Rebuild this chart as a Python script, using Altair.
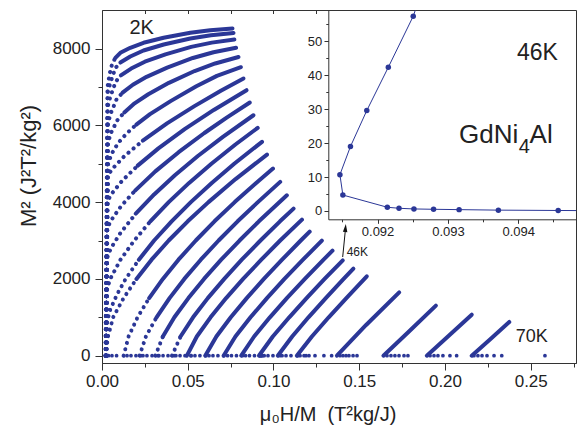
import altair as alt
import pandas as pd

BLUE = "#2b3797"
INK = "#222222"
FONT = "Liberation Sans"

# isotherm temperatures (K)
temps = [2, 6, 8, 10, 12, 14, 16, 18, 20, 22, 24, 26, 28, 30,
         32, 34, 36, 38, 40, 42, 44, 46, 48, 50, 55, 60, 65, 70]

# Arrott isotherms: (mu0H/M [T^2 kg/J], M^2 [J^2 T^2/kg^2]), low field first
iso_02 = [(0.0020, 0), (0.0032, 7000), (0.0045, 7350), (0.0058, 7583), (0.0078, 7758),
          (0.0107, 7888), (0.0165, 8019), (0.0242, 8149), (0.0359, 8279), (0.0515, 8410),
          (0.0631, 8477), (0.0761, 8522)]
iso_06 = [(0.0021, 0), (0.0033, 6850), (0.0048, 7100), (0.0078, 7491), (0.0107, 7635),
          (0.0165, 7791), (0.0242, 7948), (0.0360, 8104), (0.0515, 8261), (0.0635, 8345),
          (0.0767, 8404)]
iso_08 = [(0.0022, 0), (0.0034, 6500), (0.0049, 6750), (0.0080, 7136), (0.0110, 7299),
          (0.0170, 7478), (0.0250, 7656), (0.0370, 7849), (0.0520, 8042), (0.0640, 8153),
          (0.0772, 8235)]
iso_10 = [(0.0022, 0), (0.0035, 6050), (0.0050, 6300), (0.0085, 6678), (0.0120, 6851),
          (0.0180, 7056), (0.0260, 7263), (0.0380, 7503), (0.0530, 7753), (0.0650, 7902),
          (0.0782, 8019)]
iso_12 = [(0.0023, 0), (0.0035, 5550), (0.0052, 5800), (0.0090, 6136), (0.0130, 6334),
          (0.0190, 6572), (0.0270, 6809), (0.0390, 7106), (0.0540, 7413), (0.0660, 7611),
          (0.0796, 7779)]
iso_14 = [(0.0023, 0), (0.0036, 5000), (0.0055, 5250), (0.0095, 5544), (0.0140, 5770),
          (0.0200, 6019), (0.0280, 6291), (0.0400, 6630), (0.0550, 7015), (0.0670, 7287),
          (0.0810, 7513)]
iso_16 = [(0.0024, 0), (0.0030, 4650), (0.0057, 4850), (0.0131, 5200), (0.0238, 5600),
          (0.0379, 6050), (0.0539, 6500), (0.0693, 6900), (0.0825, 7219)]
iso_18 = [(0.0024, 0), (0.0030, 4000), (0.0053, 4200), (0.0116, 4550), (0.0208, 4950),
          (0.0329, 5400), (0.0482, 5900), (0.0652, 6400), (0.0843, 6914)]
iso_20 = [(0.0025, 0), (0.0030, 3300), (0.0049, 3500), (0.0112, 3900), (0.0193, 4300),
          (0.0311, 4800), (0.0447, 5300), (0.0597, 5800), (0.0727, 6200), (0.0862, 6593)]
iso_22 = [(0.0025, 0), (0.0030, 2550), (0.0052, 2800), (0.0108, 3200), (0.0197, 3700),
          (0.0304, 4200), (0.0425, 4700), (0.0559, 5200), (0.0705, 5700), (0.0883, 6262)]
iso_24 = [(0.0026, 0), (0.0030, 1750), (0.0048, 2000), (0.0108, 2500), (0.0188, 3000),
          (0.0282, 3500), (0.0389, 4000), (0.0508, 4500), (0.0638, 5000), (0.0778, 5500),
          (0.0908, 5934)]
iso_26 = [(0.0026, 0), (0.0030, 900), (0.0048, 1200), (0.0088, 1600), (0.0138, 2000),
          (0.0215, 2500), (0.0304, 3000), (0.0406, 3500), (0.0518, 4000), (0.0640, 4500),
          (0.0771, 5000), (0.0933, 5569)]
iso_28 = [(0.0020, 0), (0.0035, 500), (0.0065, 1000), (0.0126, 1500), (0.0201, 2000),
          (0.0289, 2500), (0.0389, 3000), (0.0500, 3500), (0.0621, 4000), (0.0779, 4600),
          (0.0962, 5238)]
iso_30 = [(0.0126, 0), (0.0155, 500), (0.0207, 1000), (0.0275, 1500), (0.0355, 2000),
          (0.0446, 2500), (0.0547, 3000), (0.0656, 3500), (0.0774, 4000), (0.0899, 4500),
          (0.0997, 4873)]
iso_32 = [(0.0219, 0), (0.0256, 500), (0.0318, 1000), (0.0394, 1500), (0.0480, 2000),
          (0.0576, 2500), (0.0680, 3000), (0.0791, 3500), (0.0909, 4000), (0.1039, 4527)]
iso_34 = [(0.0311, 0), (0.0355, 500), (0.0422, 1000), (0.0504, 1500), (0.0595, 2000),
          (0.0695, 2500), (0.0802, 3000), (0.0915, 3500), (0.1078, 4177)]
iso_36 = [(0.0408, 0), (0.0458, 500), (0.0531, 1000), (0.0617, 1500), (0.0713, 2000),
          (0.0815, 2500), (0.0924, 3000), (0.1038, 3500), (0.1117, 3831)]
iso_38 = [(0.0495, 0), (0.0553, 500), (0.0633, 1000), (0.0724, 1500), (0.0823, 2000),
          (0.0929, 2500), (0.1039, 3000), (0.1166, 3544)]
iso_40 = [(0.0602, 0), (0.0667, 500), (0.0751, 1000), (0.0844, 1500), (0.0944, 2000),
          (0.1050, 2500), (0.1159, 3000), (0.1211, 3231)]
iso_42 = [(0.0709, 0), (0.0778, 500), (0.0866, 1000), (0.0962, 1500), (0.1064, 2000),
          (0.1172, 2500), (0.1282, 2997)]
iso_44 = [(0.0812, 0), (0.0887, 500), (0.0979, 1000), (0.1078, 1500), (0.1183, 2000),
          (0.1292, 2500), (0.1344, 2736)]
iso_46 = [(0.0915, 0), (0.0996, 500), (0.1092, 1000), (0.1193, 1500), (0.1298, 2000),
          (0.1404, 2484)]
iso_48 = [(0.1025, 0), (0.1109, 500), (0.1204, 1000), (0.1305, 1500), (0.1409, 2000),
          (0.1466, 2267)]
iso_50 = [(0.1136, 0), (0.1224, 500), (0.1322, 1000), (0.1425, 1500), (0.1544, 2067)]
iso_55 = [(0.1370, 0), (0.1540, 800), (0.1733, 1650)]
iso_60 = [(0.1641, 0), (0.1790, 630), (0.1947, 1303)]
iso_65 = [(0.1894, 0), (0.2022, 520), (0.2156, 1068)]
iso_70 = [(0.2156, 0), (0.2264, 430), (0.2375, 878)]

isotherms = [iso_02, iso_06, iso_08, iso_10, iso_12, iso_14, iso_16, iso_18, iso_20,
             iso_22, iso_24, iso_26, iso_28, iso_30, iso_32, iso_34, iso_36, iso_38,
             iso_40, iso_42, iso_44, iso_46, iso_48, iso_50, iso_55, iso_60, iso_65, iso_70]

# index of the first vertex of the densely sampled (high-field) stretch of each isotherm
first_dense = [4, 4, 4, 4, 4, 5, 4, 4, 4, 4, 5, 5, 4, 3, 2, 1, 1,
               0, 0, 0, 0, 0, 0, 0, 0, 0, 0, 0]

# lowest-field points lying on M^2 ~ 0 (mu0H/M values)
tail_28 = [0.0038, 0.0058, 0.0085]
tail_30 = [0.0146, 0.0169, 0.0198, 0.0227]
tail_32 = [0.0239, 0.0262, 0.0292, 0.0327]
tail_34 = [0.0332, 0.0356, 0.0385, 0.0420]
tail_36 = [0.0431, 0.0455, 0.0484, 0.0519]
tail_38 = [0.0519, 0.0542, 0.0571, 0.0606]
tail_40 = [0.0624, 0.0647, 0.0676, 0.0711]
tail_42 = [0.0732, 0.0755, 0.0784, 0.0819]
tail_44 = [0.0837, 0.0860, 0.0889, 0.0927]
tail_46 = [0.0921, 0.0926, 0.0932, 0.0937, 0.0946, 0.0968, 0.0997, 0.1038]
tail_48 = [0.1050, 0.1073, 0.1102, 0.1143, 0.1190]
tail_50 = [0.1155, 0.1178, 0.1207, 0.1242, 0.1294, 0.1339]
tail_55 = [0.1388, 0.1405, 0.1423, 0.1440, 0.1464, 0.1487]
tail_60 = [0.1662, 0.1685, 0.1708, 0.1732, 0.1761, 0.1784]
tail_65 = [0.1913, 0.1936, 0.1959, 0.1988, 0.2029, 0.2068]
tail_70 = [0.2169, 0.2192, 0.2216, 0.2245, 0.2286, 0.2331, 0.2583]
tails = [tail_28, tail_30, tail_32, tail_34, tail_36, tail_38, tail_40, tail_42,
         tail_44, tail_46, tail_48, tail_50, tail_55, tail_60, tail_65, tail_70]

# 46 K isotherm, low-field detail (inset)
inset_h = [0.094567, 0.093717, 0.093159, 0.092796, 0.092517, 0.092305, 0.092139,
           0.091507, 0.091465, 0.091615, 0.091847, 0.092153, 0.092507]
inset_m2 = [0.15, 0.25, 0.40, 0.50, 0.60, 0.80, 1.10, 4.7, 10.7, 19.0, 29.6, 42.35, 57.4]
# where the trace runs out of the inset frame (right and top)
inset_exit_h = [0.09482, 0.092535]
inset_exit_m2 = [0.12, 59.07]

x_major = [0.0, 0.05, 0.10, 0.15, 0.20, 0.25]
x_minor = [0.025, 0.075, 0.125, 0.175, 0.225, 0.275]
x_top = [0.025, 0.05, 0.075, 0.10, 0.125]
y_major = [0, 2000, 4000, 6000, 8000]
y_minor = [1000, 3000, 5000, 7000]
ix_major = [0.092, 0.093, 0.094]
ix_minor = [0.0915, 0.0925, 0.0935, 0.0945]
iy_major = [0, 10, 20, 30, 40, 50]
iy_minor = [5, 15, 25, 35, 45, 55]

W, H = 474, 353

# ---------- tables ----------
sparse_rows, dense_rows = [], []
for T, verts, k in zip(temps, isotherms, first_dense):
    if k > 0:
        for i, (h, m2) in enumerate(verts[:k + 1]):
            sparse_rows.append(dict(T=T, i=i, h=h, m2=m2))
    for i, (h, m2) in enumerate(verts[k:]):
        dense_rows.append(dict(T=T, i=i, h=h, m2=m2))
sparse_df = pd.DataFrame(sparse_rows)
dense_df = pd.DataFrame(dense_rows)
tail_df = pd.DataFrame([dict(h=h, m2=0.0) for t in tails for h in t])

inset_pts = pd.DataFrame(dict(h=inset_h, m2=inset_m2))
trace_h = [inset_exit_h[0]] + inset_h + [inset_exit_h[1]]
trace_m2 = [inset_exit_m2[0]] + inset_m2 + [inset_exit_m2[1]]
inset_trace = pd.DataFrame(dict(h=trace_h, m2=trace_m2, i=range(len(trace_h))))

# ---------- main panel ----------
xs_main = alt.Scale(domain=[0, 0.2764], nice=False, zero=False)
ys_main = alt.Scale(domain=[-190, 9003], nice=False, zero=False)

ax_x = alt.Axis(orient="bottom", values=x_major, format=".2f", grid=False,
                tickSize=7, labelPadding=3, labelFontSize=17, labelFlush=False,
                title="μ₀H/M\u00a0\u00a0(T²kg/J)", titleFontSize=20,
                titleX=225.6, titleY=57, titleAlign="center", titleBaseline="alphabetic")
ax_y = alt.Axis(orient="left", values=y_major, format="d", grid=False,
                tickSize=7, labelPadding=5, labelFontSize=17, labelFlush=False,
                title=None)


def mx(field):
    return alt.X(field, type="quantitative", scale=xs_main, axis=ax_x)


def my(field):
    return alt.Y(field, type="quantitative", scale=ys_main, axis=ax_y)


dense = alt.Chart(dense_df).mark_line(
    color=BLUE, strokeWidth=4, strokeCap="round", strokeJoin="round"
).encode(x=mx("h"), y=my("m2"), detail="T:N", order="i:Q")

sparse = alt.Chart(sparse_df).mark_line(
    color=BLUE, strokeWidth=4, strokeCap="round", strokeJoin="round",
    strokeDash=[0.1, 6.5]
).encode(x=mx("h"), y=my("m2"), detail="T:N", order="i:Q")

tail = alt.Chart(tail_df).mark_circle(color=BLUE, size=14, opacity=1).encode(
    x=mx("h"), y=my("m2"))


def label(h, m2, text, size, align="center"):
    df = pd.DataFrame(dict(h=[h], m2=[m2], t=[text]))
    return alt.Chart(df).mark_text(font=FONT, fontSize=size, color=INK, align=align,
                                   baseline="middle").encode(
        x=mx("h"), y=my("m2"), text="t:N")


lab_2k = label(0.02315, 8547, "2K", 20)
lab_70k = label(0.25057, 495, "70K", 18)
lab_46k = label(0.14269, 2688, "46K", 12, align="left")

# vertical axis title, set beside the tick labels
ytitle_df = pd.DataFrame(dict(t=["M² (J²T²/kg²)"]))
ytitle = alt.Chart(ytitle_df).mark_text(
    font=FONT, fontSize=22, color=INK, angle=270, align="center", baseline="middle"
).encode(x=alt.value(-73), y=alt.value(156), text="t:N")

arrow_df = pd.DataFrame(dict(h=[0.14035], m2=[2570], h2=[0.14186], m22=[3247]))
arrow = alt.Chart(arrow_df).mark_rule(color="#111", strokeWidth=1).encode(
    x=mx("h"), y=my("m2"), x2="h2:Q", y2="m22:Q")
head_df = pd.DataFrame(dict(h=[0.14193], m2=[3299]))
head = alt.Chart(head_df).mark_point(
    shape="M0,-1L0.45,0.6L-0.45,0.6Z", filled=True, color="#111", opacity=1,
    size=100, angle=5, strokeWidth=0
).encode(x=mx("h"), y=my("m2"))

main = alt.layer(sparse, dense, tail, arrow, head, lab_2k, lab_70k, lab_46k, ytitle)

# minor ticks of the main axes
tick_df = pd.DataFrame(dict(h=[0.1], m2=[1000.0]))
minor = alt.Chart(tick_df).mark_point(opacity=0).encode(
    x=alt.X("h:Q", scale=xs_main,
            axis=alt.Axis(orient="bottom", values=x_minor, labels=False, domain=False,
                          grid=False, tickSize=4, title=None)),
    y=alt.Y("m2:Q", scale=ys_main,
            axis=alt.Axis(orient="left", values=y_minor, labels=False, domain=False,
                          grid=False, tickSize=4, title=None)))

# inward ticks along the top edge
top = alt.Chart(tick_df).mark_point(opacity=0).encode(
    x=alt.X("h:Q", scale=xs_main,
            axis=alt.Axis(orient="top", values=x_top, labels=False, domain=False,
                          grid=False, tickSize=3.5, offset=-3.5, title=None)),
    y=alt.Y("m2:Q", scale=ys_main, axis=None))

# ---------- inset ----------
xs_in = alt.Scale(domain=[0.0913, 0.09482], range=[226.3, W], nice=False, zero=False)
ys_in = alt.Scale(domain=[-2.45, 59.07], range=[209.3, 0.5], nice=False, zero=False)
ax_ix = alt.Axis(orient="bottom", values=ix_major, format=".3f", grid=False,
                 tickSize=4, labelPadding=2, labelFontSize=13, labelFlush=False,
                 offset=-(H - 209.3), title=None)
ax_iy = alt.Axis(orient="left", values=iy_major, format="d", grid=False,
                 tickSize=4.3, labelPadding=2.3, labelFontSize=13, labelFlush=False,
                 offset=-226.3, title=None)


def ix(field):
    return alt.X(field, type="quantitative", scale=xs_in, axis=ax_ix)


def iy(field):
    return alt.Y(field, type="quantitative", scale=ys_in, axis=ax_iy)


in_line = alt.Chart(inset_trace).mark_line(color=BLUE, strokeWidth=1).encode(
    x=ix("h"), y=iy("m2"), order="i:Q")
in_pts = alt.Chart(inset_pts).mark_circle(color=BLUE, size=30, opacity=1).encode(
    x=ix("h"), y=iy("m2"))


def in_label(h, m2, text, size, align="center", baseline="middle"):
    df = pd.DataFrame(dict(h=[h], m2=[m2], t=[text]))
    return alt.Chart(df).mark_text(font=FONT, fontSize=size, color=INK, align=align,
                                   baseline=baseline).encode(
        x=ix("h"), y=iy("m2"), text="t:N")


in_46 = in_label(0.094272, 46.55, "46K", 23)
in_gd = in_label(0.094000, 20.0, "GdNi", 26, align="right", baseline="alphabetic")
in_sub = in_label(0.094005, 17.1, "4", 20, align="left", baseline="alphabetic")
in_al = in_label(0.094160, 20.0, "Al", 26, align="left", baseline="alphabetic")

inset = alt.layer(in_line, in_pts, in_46, in_gd, in_sub, in_al)

in_tick_df = pd.DataFrame(dict(h=[0.093], m2=[10.0]))
inset_minor = alt.Chart(in_tick_df).mark_point(opacity=0).encode(
    x=alt.X("h:Q", scale=xs_in,
            axis=alt.Axis(orient="bottom", values=ix_minor, labels=False, domain=False,
                          grid=False, tickSize=2.5, offset=-(H - 209.3), title=None)),
    y=alt.Y("m2:Q", scale=ys_in,
            axis=alt.Axis(orient="left", values=iy_minor, labels=False, domain=False,
                          grid=False, tickSize=2.5, offset=-226.3, title=None)))

chart = alt.layer(main, minor, top, inset, inset_minor).resolve_scale(
    x="independent", y="independent"
).properties(
    width=W, height=H, autosize="none",
    padding={"left": 102, "top": 10, "right": 1, "bottom": 68},
).configure_view(
    stroke="#333333", strokeWidth=1
).configure_axis(
    labelFont=FONT, titleFont=FONT, labelColor=INK, titleColor=INK,
    tickColor="#333333", domainColor="#333333", titleFontWeight="normal",
    tickWidth=1, domainWidth=1
)

chart.save("out.html", embed_options={"renderer": "svg", "actions": False})
